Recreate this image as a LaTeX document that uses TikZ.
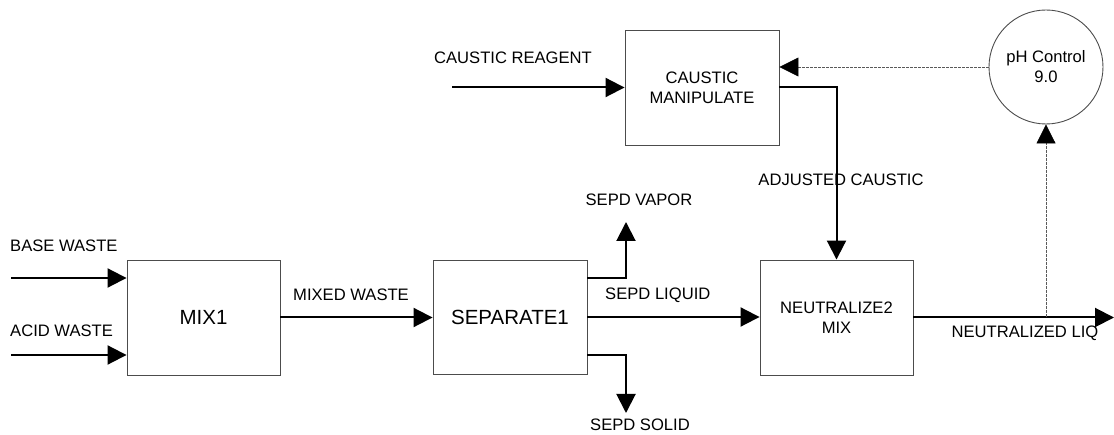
\documentclass[tikz,border=0pt]{standalone}
\usepackage{fontspec}
\setmainfont{Liberation Sans}
\usetikzlibrary{arrows.meta,calc}
\begin{document}
\begin{tikzpicture}[x=1pt,y=-1pt,
  box/.style={draw=black!70,line width=0.9pt,rectangle,minimum width=153pt,minimum height=115pt,inner sep=0pt,align=center,font=\fontsize{16.6}{20}\selectfont},
  bigbox/.style={box,font=\fontsize{20.5}{24}\selectfont},
  flow/.style={line width=2pt,-{Triangle[length=19pt,width=19pt]}},
  sig/.style={draw=black!65,line width=0.8pt,dash pattern=on 3pt off 1pt,-{Triangle[length=19pt,width=19pt,color=black]}},
  lab/.style={inner sep=0pt,font=\fontsize{16.6}{20}\selectfont}]
\useasboundingbox (0,0) rectangle (1114,435);
\node[bigbox] (mix) at (203.5,317.5) {MIX1};
\node[bigbox,minimum width=154pt,minimum height=114pt] (sep) at (510,317) {SEPARATE1};
\node[box,minimum width=154pt] (caus) at (702,87.5) {CAUSTIC\\MANIPULATE};
\node[box] (neu) at (836.5,317.5) {NEUTRALIZE2\\MIX};
\node[draw=black!70,line width=0.9pt,circle,minimum size=114pt,inner sep=0pt,align=center,font=\fontsize{16.6}{20}\selectfont] (ph) at (1046,67) {pH Control\\9.0};
\coordinate (bw) at (11,278);
\coordinate (aw) at (11,355);
\coordinate (cr) at (452,87.5);
\coordinate (vap) at (626,222);
\coordinate (sol) at (626,413);
\coordinate (out) at (1114,317.5);
\draw[flow] (bw) -- (bw -| mix.west);
\draw[flow] (aw) -- (aw -| mix.west);
\draw[flow] (mix.east) -- (mix.east -| sep.west);
\draw[flow] ([yshift=39pt]sep.east) -| (vap);
\draw[flow] ([yshift=-38pt]sep.east) -| (sol);
\draw[flow] (sep.east) -- (sep.east -| neu.west);
\draw[flow] (cr) -- (caus.west);
\draw[flow] (caus.east) -| (neu.north);
\draw[flow] (neu.east) -- (out);
\draw[sig] (ph.west) -- (ph.west -| caus.east);
\draw[sig] (ph.south |- neu.east) -- (ph.south);
\node[lab,anchor=west] (lbw) at (10,246) {BASE WASTE};
\node[lab,anchor=west] (law) at (10,331) {ACID WASTE};
\node[lab] (lmw) at (351,295) {MIXED WASTE};
\node[lab] (lsv) at (639,200) {SEPD VAPOR};
\node[lab,anchor=west] (lsl) at (605,295) {SEPD LIQUID};
\node[lab] (lss) at (640,425) {SEPD SOLID};
\node[lab] (lcr) at (513,58) {CAUSTIC REAGENT};
\node[lab] (lac) at (841,180) {ADJUSTED CAUSTIC};
\node[lab] (lnl) at (1025,333) {NEUTRALIZED LIQ};
\end{tikzpicture}
\end{document}
